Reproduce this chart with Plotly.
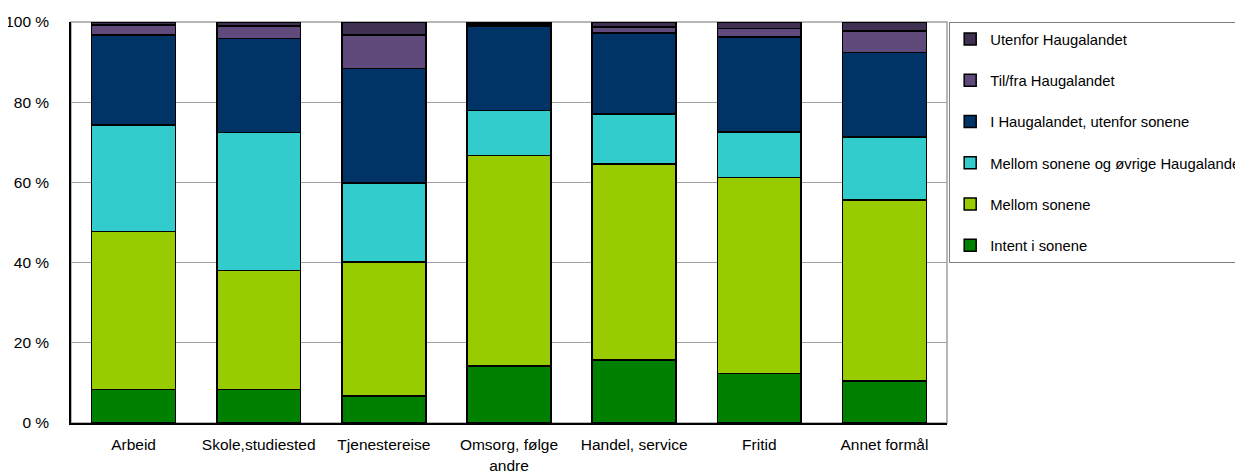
import plotly.graph_objects as go

categories = ["Arbeid", "Skole,studiested", "Tjenestereise", "Omsorg, følge<br>andre",
              "Handel, service", "Fritid", "Annet formål"]

intent_i_sonene = [8.3, 8.4, 6.7, 14.2, 15.7, 12.4, 10.5]
mellom_sonene = [39.4, 29.6, 33.5, 52.5, 48.9, 48.8, 45.1]
mellom_og_ovrige = [26.6, 34.4, 19.65, 11.2, 12.5, 11.4, 15.7]
i_haugalandet = [22.5, 23.5, 28.55, 21.1, 20.2, 23.6, 21.1]
til_fra = [2.45, 3.1, 8.3, 0.5, 1.4, 2.2, 5.4]
utenfor = [0.75, 1.0, 3.3, 0.5, 1.3, 1.6, 2.2]

series = [
    ("Intent i sonene", intent_i_sonene, "#008000"),
    ("Mellom sonene", mellom_sonene, "#99CC00"),
    ("Mellom sonene og øvrige Haugalandet", mellom_og_ovrige, "#33CCCC"),
    ("I Haugalandet, utenfor sonene", i_haugalandet, "#003366"),
    ("Til/fra Haugalandet", til_fra, "#604A7B"),
    ("Utenfor Haugalandet", utenfor, "#403152"),
]

fig = go.Figure()
for i, (name, vals, col) in enumerate(series):
    fig.add_trace(go.Bar(
        x=categories, y=vals, name=name, legendgroup=name,
        legendrank=len(series) - i,
        marker=dict(color=col, line=dict(color="#000000", width=1.5)),
    ))

# the page body adds 8px, so margins are shifted to compensate
fig.update_layout(
    barmode="stack",
    bargap=0.33,
    width=1243, height=472,
    margin=dict(l=63, r=304, t=14, b=57, autoexpand=False),
    paper_bgcolor="white", plot_bgcolor="white",
    font=dict(family="Liberation Sans, Arial, sans-serif", size=15.5, color="#000000"),
    legend=dict(
        x=1.0025, xanchor="left", y=1, yanchor="top",
        traceorder="grouped", tracegroupgap=19,
        bordercolor="#808080", borderwidth=1,
        font=dict(size=14.8),
    ),
)
fig.update_yaxes(
    range=[0, 100], tickvals=[0, 20, 40, 60, 80, 100],
    ticktext=["0 %", "20 %", "40 %", "60 %", "80 %", "100 %"],
    showgrid=True, gridcolor="#A0A0A0", gridwidth=1,
    showline=True, linecolor="#000000", linewidth=1.5,
    ticks="", ticklabelstandoff=17,
    zeroline=False, mirror=False, automargin=False,
)
fig.update_xaxes(
    showline=True, linecolor="#000000", linewidth=1.5,
    ticks="", tickangle=0, ticklabelstandoff=7, automargin=False,
)
# light grey frame on top and right of plot area
fig.add_shape(type="rect", xref="paper", yref="paper", x0=0, x1=1, y0=0, y1=1,
              line=dict(color="#A0A0A0", width=1.5), layer="below")

fig.write_html("out.html")
